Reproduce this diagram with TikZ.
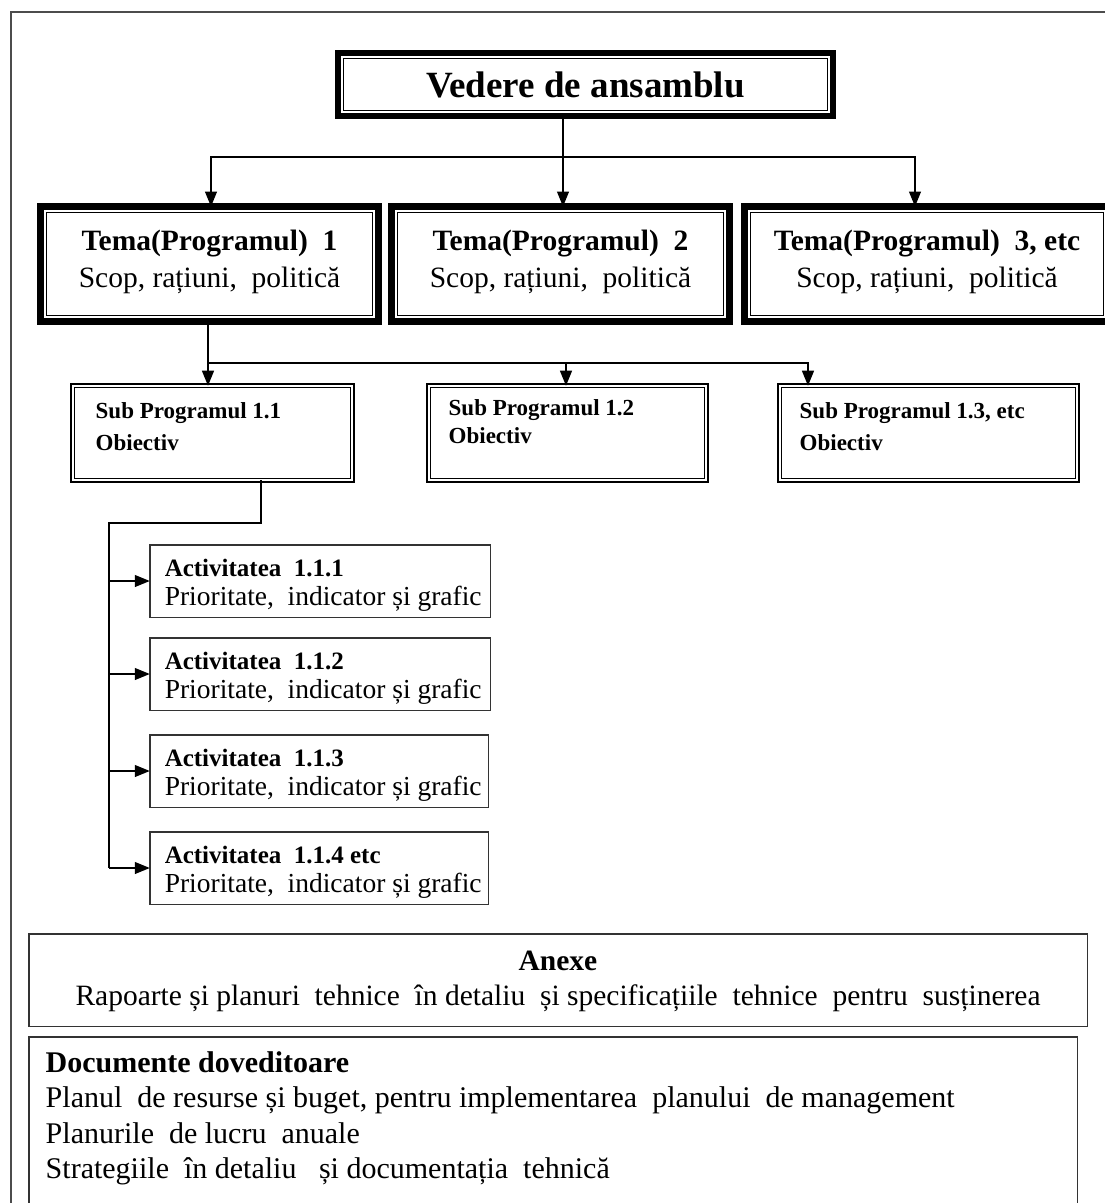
\documentclass[tikz,border=0pt]{standalone}
\usepackage{fontspec}
\setmainfont{Liberation Serif}
\usetikzlibrary{positioning,arrows.meta,calc}

% box text: width, height, top gap, content
\newcommand{\boxtext}[4]{\parbox[c][#2][t]{#1}{\vspace*{#3}#4}}

\begin{document}
\begin{tikzpicture}[x=1pt,y=-1pt,
  line/.style={line width=1.2pt},
  arr/.style={line width=1.2pt,-{Triangle[length=15pt,width=12pt]}},
  frame/.style={line width=1.5pt,draw=black!70},
  box/.style={anchor=north west,inner sep=0pt,outer sep=0pt},
  topbox/.style={box,draw,line width=6pt,minimum width=495pt,minimum height=63pt,
    font=\fontsize{37}{42}\selectfont\bfseries},
  temabox/.style={box,draw,line width=7pt},
  subbox/.style={box,draw,line width=1.8pt,double=white,double distance=1.8pt},
  actbox/.style={box,draw=black!80,line width=1.5pt},
  inner line/.style={line width=1.2pt}
]
\fill[white] (0,0) rectangle (1105,1203);
\useasboundingbox (0,0) rectangle (1105,1203);
\clip (0,0) rectangle (1105,1203);

% outer frame
\draw[frame] (11,1210) -- (11,12) -- (1110,12);

% top level
\node[topbox] (vedere) at (338,53) {Vedere de ansamblu};

% themes
\node[temabox] (tema1) at (40.5,206.5) {\boxtext{338pt}{115pt}{24pt}{\centering\fontsize{29.5}{37}\selectfont
  \textbf{Tema(Programul)~ 1}\\ Scop, rațiuni,~ politică}};
\node[temabox] (tema2) at (391.5,206.5) {\boxtext{338pt}{115pt}{24pt}{\centering\fontsize{29.5}{37}\selectfont
  \textbf{Tema(Programul)~ 2}\\ Scop, rațiuni,~ politică}};
\node[temabox] (tema3) at (744.5,206.5) {\boxtext{365pt}{115pt}{24pt}{\centering\fontsize{29.5}{37}\selectfont
  \textbf{Tema(Programul)~ 3, etc}\\ Scop, rațiuni,~ politică}};

\foreach \n/\d in {vedere/5.5,tema1/6,tema2/6,tema3/6}
  \draw[inner line] ($(\n.north west)+(\d,\d)$) rectangle ($(\n.south east)-(\d,\d)$);

% sub programmes
\node[subbox] (sub1) at (72.7,385.7) {\boxtext{279.6pt}{94.6pt}{16.5pt}{\raggedright\leftskip=23pt
  \fontsize{23}{32}\selectfont\bfseries Sub Programul 1.1\\ Obiectiv}};
\node[subbox] (sub2) at (428.7,385.7) {\boxtext{277.6pt}{94.6pt}{13.5pt}{\raggedright\leftskip=20pt
  \fontsize{23}{28}\selectfont\bfseries Sub Programul 1.2\\ Obiectiv}};
\node[subbox] (sub3) at (779.7,385.7) {\boxtext{297.6pt}{94.6pt}{16.5pt}{\raggedright\leftskip=20pt
  \fontsize{23}{32}\selectfont\bfseries Sub Programul 1.3, etc\\ Obiectiv}};

% activities
\node[actbox] (act1) at (149.75,544.75) {\boxtext{340.5pt}{72.5pt}{14pt}{\raggedright\leftskip=15pt
  \fontsize{25}{29}\selectfont\textbf{Activitatea~ 1.1.1}\\ \fontsize{27.5}{29}\selectfont Prioritate,~ indicator și grafic}};
\node[actbox] (act2) at (149.75,637.75) {\boxtext{340.5pt}{72.5pt}{14pt}{\raggedright\leftskip=15pt
  \fontsize{25}{29}\selectfont\textbf{Activitatea~ 1.1.2}\\ \fontsize{27.5}{29}\selectfont Prioritate,~ indicator și grafic}};
\node[actbox] (act3) at (149.75,734.75) {\boxtext{338.5pt}{72.5pt}{14pt}{\raggedright\leftskip=15pt
  \fontsize{25}{29}\selectfont\textbf{Activitatea~ 1.1.3}\\ \fontsize{27.5}{29}\selectfont Prioritate,~ indicator și grafic}};
\node[actbox] (act4) at (149.75,831.75) {\boxtext{338.5pt}{72.5pt}{14pt}{\raggedright\leftskip=15pt
  \fontsize{25}{29}\selectfont\textbf{Activitatea~ 1.1.4 etc}\\ \fontsize{27.5}{29}\selectfont Prioritate,~ indicator și grafic}};

% annexes and documents
\node[actbox] (anexe) at (28.75,933.75) {\boxtext{1058.5pt}{92.5pt}{17pt}{\centering\fontsize{29.5}{35}\selectfont
  \textbf{Anexe}\\ Rapoarte și planuri~ tehnice~ în detaliu~ și specificațiile~ tehnice~ pentru~ susținerea}};
\node[actbox] (documente) at (28.75,1036.75) {\boxtext{1048.5pt}{200pt}{14.5pt}{\raggedright\leftskip=17pt
  \fontsize{30}{35.5}\selectfont\textbf{Documente doveditoare}\\
  Planul~ de resurse și buget, pentru implementarea~ planului~ de management\\
  Planurile~ de lucru~ anuale\\
  Strategiile~ în detaliu~~ și documentația~ tehnică}};

% connectors
\coordinate (split1) at (563,157);
\draw[line] (vedere.south -| split1) -- (split1);
\draw[arr] (split1) -| (tema1.north -| 211,0);
\draw[arr] (split1) -- (tema2.north -| split1);
\draw[arr] (split1) -| (tema3.north -| 915,0);

\coordinate (split2) at (208,363);
\draw[line] (tema1.south -| split2) -- (split2);
\draw[arr] (split2) -- (sub1.north -| split2);
\draw[arr] (split2) -| (sub2.north -| 566,0);
\draw[arr] (split2) -| (sub3.north -| 808,0);

\coordinate (bend) at (109,523);
\draw[line] (sub1.south -| 261,0) |- (bend) -- (act4.west -| bend);
\foreach \a in {act1,act2,act3,act4}
  \draw[arr] (\a.west -| bend) -- (\a.west);

\end{tikzpicture}
\end{document}
